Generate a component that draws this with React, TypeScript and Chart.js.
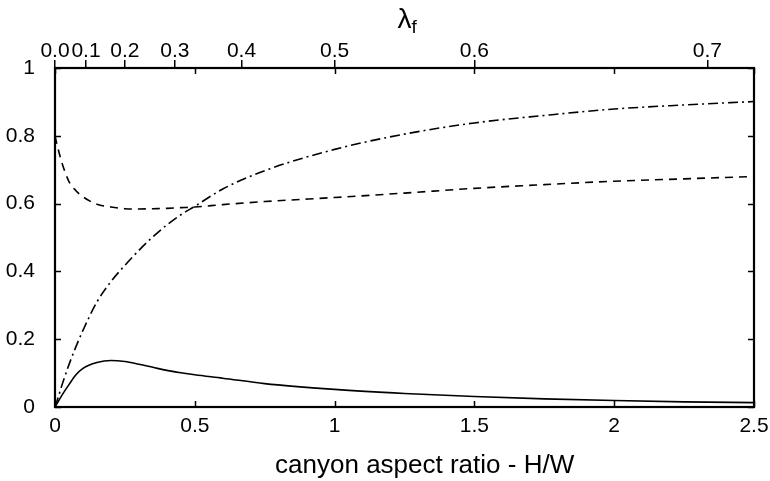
import React, { useEffect, useRef } from "react";
import { Chart, registerables } from "chart.js";

Chart.register(...registerables);

// canyon aspect ratio H/W sample positions
const xs = [0, 0.01, 0.025, 0.05, 0.075, 0.1, 0.15, 0.2, 0.25, 0.3, 0.35, 0.4, 0.45, 0.5, 0.6, 0.75, 1.0, 1.25, 1.5, 1.75, 2.0, 2.25, 2.5];
// solid curve
const solidVals = [0, 0.014, 0.035, 0.066, 0.095, 0.114, 0.131, 0.137, 0.134, 0.126, 0.117, 0.108, 0.101, 0.095, 0.085, 0.069, 0.052, 0.04, 0.031, 0.024, 0.019, 0.015, 0.013];
// dashed curve
const dashedVals = [0.8, 0.765, 0.72, 0.665, 0.638, 0.62, 0.598, 0.59, 0.585, 0.584, 0.585, 0.586, 0.588, 0.59, 0.597, 0.606, 0.618, 0.631, 0.645, 0.656, 0.666, 0.673, 0.68];
// dash-dot curve
const dashDotVals = [0, 0.025, 0.065, 0.125, 0.178, 0.226, 0.31, 0.37, 0.418, 0.462, 0.502, 0.537, 0.567, 0.592, 0.643, 0.697, 0.76, 0.805, 0.838, 0.86, 0.879, 0.891, 0.901];

// bottom axis ticks
const xTicks = [0, 0.5, 1, 1.5, 2, 2.5];
// y axis ticks
const yTicks = [0, 0.2, 0.4, 0.6, 0.8, 1];
// top axis (lambda_f) tick labels and their H/W positions
const topTickLabels = ["0.0", "0.1", "0.2", "0.3", "0.4", "0.5", "0.6", "0.7"];
const topTickPositions = [0, 0.111, 0.25, 0.429, 0.667, 1.0, 1.5, 2.333];

const xTitle = "canyon aspect ratio - H/W";

const FONT = "'Liberation Sans', Arial, Helvetica, sans-serif";

const framePlugin = {
  id: "frameTicks",
  afterDatasetsDraw(chart: any) {
    const { ctx, chartArea } = chart;
    const xs_ = chart.scales.x;
    const ys_ = chart.scales.y;
    const { left, right, top, bottom } = chartArea;
    ctx.save();
    ctx.strokeStyle = "#000";
    ctx.lineWidth = 1.5;
    const tl = 6;
    ctx.beginPath();
    xTicks.forEach((v) => {
      const px = Math.round(xs_.getPixelForValue(v)) + 0.5;
      ctx.moveTo(px, bottom);
      ctx.lineTo(px, bottom - tl);
      ctx.moveTo(px, top);
      ctx.lineTo(px, top + tl);
    });
    yTicks.forEach((v) => {
      const py = Math.round(ys_.getPixelForValue(v)) + 0.5;
      ctx.moveTo(left, py);
      ctx.lineTo(left + tl, py);
      ctx.moveTo(right, py);
      ctx.lineTo(right - tl, py);
    });
    ctx.stroke();
    ctx.lineWidth = 2.2;
    ctx.strokeRect(left, top, right - left, bottom - top);
    ctx.fillStyle = "#000";
    // x axis title
    ctx.textBaseline = "alphabetic";
    ctx.textAlign = "center";
    ctx.font = `26px ${FONT}`;
    ctx.fillText(xTitle, xs_.getPixelForValue(1.322), 473);
    // lambda_f title
    ctx.textAlign = "left";
    ctx.font = `28px ${FONT}`;
    const lx = xs_.getPixelForValue(1.225);
    ctx.fillText("λ", lx, 28);
    const w = ctx.measureText("λ").width;
    ctx.font = `19px ${FONT}`;
    ctx.fillText("f", lx + w, 33);
    ctx.restore();
  },
};

const noSidePad = (s: any) => {
  s.paddingLeft = 0;
  s.paddingRight = 0;
};

export default function App() {
  const ref = useRef<HTMLCanvasElement | null>(null);
  useEffect(() => {
    if (!ref.current) return;
    Chart.defaults.font.family = FONT;
    Chart.defaults.color = "#000";
    const mk = (vals: number[]) => xs.map((x, i) => ({ x, y: vals[i] }));
    const base = {
      borderColor: "#000",
      borderWidth: 1.6,
      pointRadius: 0,
      fill: false,
      cubicInterpolationMode: "monotone" as const,
    };
    const chart = new Chart(ref.current, {
      type: "line",
      data: {
        datasets: [
          { ...base, label: "solid", data: mk(solidVals) },
          { ...base, label: "dashed", data: mk(dashedVals), borderDash: [8, 6] },
          { ...base, label: "dashdot", data: mk(dashDotVals), borderDash: [10, 4, 2, 4] },
        ],
      },
      options: {
        animation: false,
        responsive: true,
        maintainAspectRatio: false,
        layout: { padding: { left: 0, right: 16, top: 0, bottom: 0 } },
        plugins: { legend: { display: false }, tooltip: { enabled: false } },
        scales: {
          x: {
            type: "linear",
            position: "bottom",
            min: 0,
            max: 2.5,
            afterBuildTicks: (s: any) => {
              s.ticks = xTicks.map((v) => ({ value: v }));
            },
            ticks: {
              font: { size: 21 },
              padding: -1,
              maxRotation: 0,
              autoSkip: false,
              callback: (v: any) => String(v),
            },
            grid: { display: false },
            border: { display: false },
            title: { display: false, text: xTitle },
            afterFit: (s: any) => {
              s.height = 74;
              noSidePad(s);
            },
          },
          x2: {
            type: "linear",
            position: "top",
            min: 0,
            max: 2.5,
            afterBuildTicks: (s: any) => {
              s.ticks = topTickPositions.map((v) => ({ value: v }));
            },
            ticks: {
              font: { size: 21 },
              padding: -4,
              maxRotation: 0,
              autoSkip: false,
              callback: (_v: any, i: number) => topTickLabels[i],
            },
            grid: {
              display: true,
              drawOnChartArea: false,
              drawTicks: true,
              tickLength: 8,
              color: "#000",
              lineWidth: 1.5,
            },
            border: { display: false },
            afterFit: (s: any) => {
              s.height = 68;
              noSidePad(s);
            },
          },
          y: {
            type: "linear",
            position: "left",
            min: 0,
            max: 1,
            afterBuildTicks: (s: any) => {
              s.ticks = yTicks.map((v) => ({ value: v }));
            },
            ticks: {
              font: { size: 21 },
              padding: 12,
              callback: (v: any) => String(v),
            },
            grid: { display: false },
            border: { display: false },
            afterFit: (s: any) => {
              s.width = 55;
              s.paddingTop = 0;
              s.paddingBottom = 0;
            },
          },
        },
      },
      plugins: [framePlugin],
    });
    return () => chart.destroy();
  }, []);
  return (
    <div style={{ position: "fixed", left: 0, top: 0, width: 770, height: 481, background: "#fff" }}>
      <canvas ref={ref} />
    </div>
  );
}
